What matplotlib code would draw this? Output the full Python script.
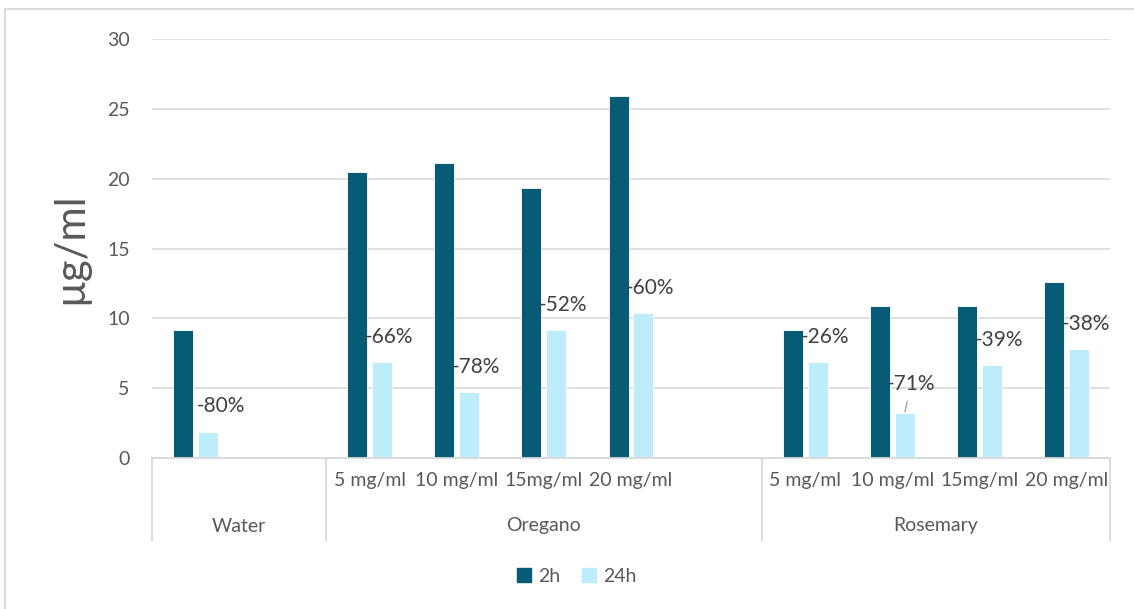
import matplotlib
matplotlib.use("Agg")
import matplotlib.pyplot as plt
from matplotlib.patches import Patch
from matplotlib.transforms import blended_transform_factory

plt.rcParams['font.family'] = ['Lato', 'DejaVu Sans']

# ---- data ----
groups = ["Water", "Oregano", "Rosemary"]
group_counts = [1, 4, 4]          # categories in each group
group_spacer = [1, 1, 0]          # blank slot after each group
doses = ["", "5 mg/ml", "10 mg/ml", "15mg/ml", "20 mg/ml",
         "5 mg/ml", "10 mg/ml", "15mg/ml", "20 mg/ml"]
series = ["2h", "24h"]
h2 = [9.2, 20.5, 21.1, 19.35, 25.9, 9.15, 10.9, 10.9, 12.6]
h24 = [1.85, 6.9, 4.7, 9.2, 10.35, 6.85, 3.2, 6.65, 7.8]
pct = ["-80%", "-66%", "-78%", "-52%", "-60%", "-26%", "-71%", "-39%", "-38%"]
yticks = [0, 5, 10, 15, 20, 25, 30]

# ---- style ----
DARK = "#075B75"
LIGHT = "#BDEDFA"
GRID = "#D9D9D9"
TXT = "#595959"
LBL = "#404040"

# category slot positions
pos = []
bounds = [-0.5]
s = 0
for n, sp in zip(group_counts, group_spacer):
    for i in range(n):
        pos.append(s + i)
    s += n + sp
    bounds.append(s - 0.5)
nslots = s

W, H = 1134, 609
fig = plt.figure(figsize=(W / 100, H / 100), dpi=100)
ax = fig.add_axes([152 / W, 1 - 458 / H, (1110 - 152) / W, (458 - 39) / H])

bw = 0.23
off = 0.143
x2 = [p - off for p in pos]
x24 = [p + off for p in pos]
ax.bar(x2, h2, width=bw, color=DARK, edgecolor="white", linewidth=0.6, zorder=3)
ax.bar(x24, h24, width=bw, color=LIGHT, edgecolor="white", linewidth=0.6, zorder=3)

ax.set_xlim(-0.5, nslots - 0.5)
ax.set_ylim(0, 30)
ax.set_yticks(yticks)
ax.tick_params(axis="y", length=0, pad=16, labelsize=14, labelcolor=TXT)
ax.yaxis.grid(True, color=GRID, linewidth=1.2, zorder=0)
ax.set_axisbelow(True)
for sp in ax.spines.values():
    sp.set_visible(False)

# category axis
ax.set_xticks(pos)
ax.set_xticklabels(doses)
ax.tick_params(axis="x", length=0, pad=10, labelsize=14, labelcolor=TXT)

tr = blended_transform_factory(ax.transData, ax.transAxes)
ax.plot([-0.5, nslots - 0.5], [0, 0], color=GRID, lw=1.3, transform=tr, clip_on=False, zorder=4)
vb = -(540 - 458) / (458 - 39)
for b in bounds:
    ax.plot([b, b], [0, vb], color=GRID, lw=1.3, transform=tr, clip_on=False)
gy = -(526 - 458) / (458 - 39)
for g, a, b in zip(groups, bounds[:-1], bounds[1:]):
    ax.text((a + b) / 2, gy, g, transform=tr, ha="center", va="center",
            fontsize=14, color=TXT)

# percentage labels
k = 0.72
for i, (x, v, t) in enumerate(zip(x24, h24, pct)):
    dx, dy = (13, 26) if i == 0 else (7, 25)
    if t == "-71%":
        ax.annotate(t, xy=(x, v), xytext=(6 * k, 29 * k), textcoords="offset points",
                    ha="center", va="center", fontsize=15, color=LBL,
                    arrowprops=dict(arrowstyle="-", color="#A6A6A6", lw=1,
                                    shrinkA=3, shrinkB=1))
    else:
        ax.annotate(t, xy=(x, v), xytext=(dx * k, dy * k), textcoords="offset points",
                    ha="center", va="center", fontsize=15, color=LBL)

# y label
fig.text(70 / W, 1 - 248 / H, "µg/ml", rotation=90, ha="center", va="center",
         fontsize=30, color=TXT)

# legend
handles = [Patch(facecolor=DARK, edgecolor=DARK), Patch(facecolor=LIGHT, edgecolor=LIGHT)]
fig.legend(handles, series, loc="center", bbox_to_anchor=(577 / W, 1 - 576 / H),
           ncol=2, frameon=False, fontsize=14, handlelength=0.7, handleheight=0.7,
           handletextpad=0.4, columnspacing=1.1, labelcolor=TXT)

# chart border
fig.add_artist(plt.Line2D([5 / W, 1], [1 - 9 / H, 1 - 9 / H], color=GRID, lw=1.3,
                          transform=fig.transFigure))
fig.add_artist(plt.Line2D([5 / W, 5 / W], [0, 1 - 9 / H], color=GRID, lw=1.3,
                          transform=fig.transFigure))

fig.savefig("out.png", dpi=100, facecolor="white")
